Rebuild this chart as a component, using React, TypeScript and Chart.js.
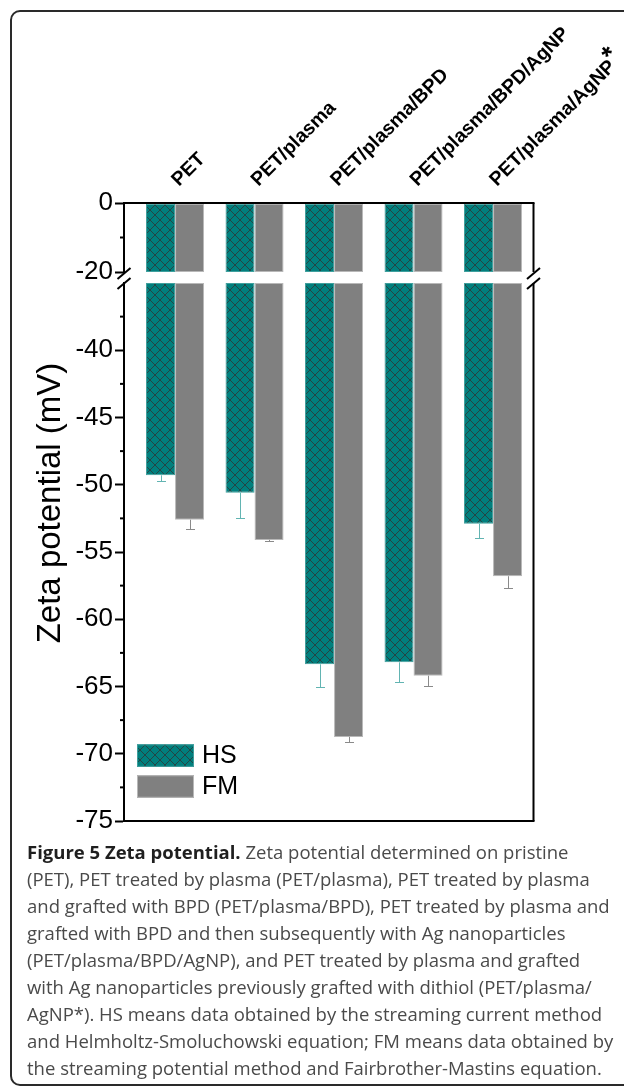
import React, { useEffect, useRef } from 'react';
import { Chart, registerables } from 'chart.js';

Chart.register(...registerables);

// Sample groups along the x axis
const categories = ['PET', 'PET/plasma', 'PET/plasma/BPD', 'PET/plasma/BPD/AgNP', 'PET/plasma/AgNP'];
const categoryMarks = ['', '', '', '', '*'];

// Zeta potential (mV): HS = streaming current, FM = streaming potential
const hsValues = [-49.3, -50.6, -63.35, -63.2, -52.9];
const hsErrors = [0.45, 1.85, 1.7, 1.45, 1.05];
const fmValues = [-52.6, -54.1, -68.75, -64.2, -56.8];
const fmErrors = [0.7, 0.1, 0.35, 0.75, 0.85];

// Broken y axis: upper segment and lower segment
const upperRange = [-20, 0];
const lowerRange = [-75, -35];
const upperTicks = [0, -20];
const upperMinorTicks = [-10];
const lowerTicks = [-40, -45, -50, -55, -60, -65, -70, -75];
const lowerMinorTicks = [-37.5, -42.5, -47.5, -52.5, -57.5, -62.5, -67.5, -72.5];

const seriesNames = ['HS', 'FM'];
const axisTitle = 'Zeta potential (mV)';

const FONT = "'Liberation Sans', Arial, Helvetica, sans-serif";
const TEAL = '#017f7d';
const GREY = '#808080';

function makeHatch(ctx: CanvasRenderingContext2D) {
  const tile = document.createElement('canvas');
  tile.width = 10;
  tile.height = 10;
  const g = tile.getContext('2d')!;
  g.fillStyle = TEAL;
  g.fillRect(0, 0, 10, 10);
  g.strokeStyle = 'rgba(50,50,50,0.75)';
  g.lineWidth = 1;
  g.beginPath();
  g.moveTo(-1, -1);
  g.lineTo(11, 11);
  g.moveTo(11, -1);
  g.lineTo(-1, 11);
  g.stroke();
  return ctx.createPattern(tile, 'repeat') as CanvasPattern;
}

const decor = {
  id: 'decor',
  afterDatasetsDraw(chart: any) {
    const { ctx, chartArea: a, scales } = chart;
    const up = scales.y2;
    const lo = scales.y;
    const xs = scales.x;
    const line = (x1: number, y1: number, x2: number, y2: number) => {
      ctx.beginPath();
      ctx.moveTo(x1, y1);
      ctx.lineTo(x2, y2);
      ctx.stroke();
    };
    ctx.save();

    // error bars (downward only)
    const errSets = [
      { values: hsValues, errors: hsErrors, meta: chart.getDatasetMeta(2), color: '#62b4b2' },
      { values: fmValues, errors: fmErrors, meta: chart.getDatasetMeta(3), color: '#8a8a8a' },
    ];
    ctx.lineWidth = 1;
    for (const s of errSets) {
      ctx.strokeStyle = s.color;
      s.meta.data.forEach((bar: any, i: number) => {
        const x = Math.round(bar.x) + 0.5;
        const y0 = lo.getPixelForValue(s.values[i]);
        const y1 = Math.round(lo.getPixelForValue(s.values[i] - s.errors[i])) + 0.5;
        line(x, y0, x, y1);
        line(x - 4.5, y1, x + 4.5, y1);
      });
    }

    // frame
    ctx.strokeStyle = '#000';
    ctx.lineWidth = 2;
    line(a.left - 1, up.top, a.right + 1, up.top);
    line(a.left - 1, lo.bottom, a.right + 1, lo.bottom);
    line(a.right, up.top, a.right, up.bottom);
    line(a.right, lo.top, a.right, lo.bottom);

    // axis break marks
    for (const x of [a.left, a.right]) {
      for (const y of [up.bottom + 1.5, lo.top + 0.5]) {
        line(x - 6.5, y + 5.5, x + 6.5, y - 5.5);
      }
    }

    // minor ticks
    for (const v of upperMinorTicks) {
      const y = up.getPixelForValue(v);
      line(a.left - 4, y, a.left, y);
    }
    for (const v of lowerMinorTicks) {
      const y = lo.getPixelForValue(v);
      line(a.left - 4, y, a.left, y);
    }

    // axis title
    ctx.fillStyle = '#000';
    ctx.save();
    ctx.translate(60, 503);
    ctx.rotate(-Math.PI / 2);
    ctx.font = `33px ${FONT}`;
    ctx.textAlign = 'center';
    ctx.textBaseline = 'alphabetic';
    ctx.fillText(axisTitle, 0, 0);
    ctx.restore();

    // rotated category labels above the plot
    categories.forEach((label, i) => {
      const cx = xs.getPixelForValue(i);
      ctx.save();
      ctx.translate(cx + 4, up.top - 16);
      ctx.rotate(-Math.PI / 4);
      ctx.font = `bold 19.5px ${FONT}`;
      ctx.textAlign = 'left';
      ctx.textBaseline = 'alphabetic';
      ctx.fillText(label, 0, 0);
      if (categoryMarks[i]) {
        const w = ctx.measureText(label).width;
        ctx.font = `bold 27px ${FONT}`;
        ctx.fillText(categoryMarks[i], w - 1, -5);
      }
      ctx.restore();
    });

    // legend
    const fills = [chart.data.datasets[2].backgroundColor, chart.data.datasets[3].backgroundColor];
    const edges = ['#3f9f9d', '#b8b8b8'];
    const lx = a.left + 13;
    const boxes = [lo.getPixelForValue(-69.3), lo.getPixelForValue(-71.6)];
    ctx.font = `25px ${FONT}`;
    ctx.textAlign = 'left';
    ctx.textBaseline = 'middle';
    seriesNames.forEach((name, k) => {
      const top = boxes[k];
      ctx.fillStyle = fills[k];
      ctx.fillRect(lx, top, 57, 22.5);
      ctx.strokeStyle = edges[k];
      ctx.lineWidth = 1;
      ctx.strokeRect(lx + 0.5, top + 0.5, 56, 21.5);
      ctx.fillStyle = '#000';
      ctx.fillText(name, lx + 65, top + 12);
    });

    ctx.restore();
  },
};

export default function App() {
  const ref = useRef<HTMLCanvasElement>(null);

  useEffect(() => {
    const canvas = ref.current!;
    const ctx = canvas.getContext('2d')!;
    const hatch = makeHatch(ctx);

    const upperBar = (vals: number[]) =>
      vals.map((v, i) => ({ x: i, y: [upperRange[1], Math.max(v, upperRange[0])] }));
    const lowerBar = (vals: number[]) =>
      vals.map((v, i) => ({ x: i, y: [lowerRange[1], v] }));

    const common = {
      borderWidth: 1,
      borderSkipped: false,
      categoryPercentage: 0.73,
      barPercentage: 1,
    };

    const tickFont = { family: FONT, size: 26 };
    const yBase = {
      type: 'linear',
      position: 'left',
      stack: 'v',
      stacked: false,
      afterFit: (s: any) => {
        s.width = 124;
      },
      grid: {
        display: true,
        drawOnChartArea: false,
        drawTicks: true,
        tickLength: 9,
        tickWidth: 2,
        tickColor: '#000',
      },
      border: { display: true, color: '#000', width: 2 },
      ticks: { font: tickFont, color: '#000', padding: 2 },
    };

    const chart = new Chart(canvas, {
      type: 'bar',
      data: {
        datasets: [
          { label: seriesNames[0], data: upperBar(hsValues), yAxisID: 'y2', stack: 'hs', backgroundColor: hatch, borderColor: '#3f9f9d', ...common },
          { label: seriesNames[1], data: upperBar(fmValues), yAxisID: 'y2', stack: 'fm', backgroundColor: GREY, borderColor: '#b8b8b8', ...common },
          { label: seriesNames[0], data: lowerBar(hsValues), yAxisID: 'y', stack: 'hs', backgroundColor: hatch, borderColor: '#3f9f9d', ...common },
          { label: seriesNames[1], data: lowerBar(fmValues), yAxisID: 'y', stack: 'fm', backgroundColor: GREY, borderColor: '#b8b8b8', ...common },
        ] as any,
      },
      options: {
        animation: false,
        responsive: false,
        devicePixelRatio: 1,
        layout: { padding: { top: 203, bottom: 19, left: 0, right: 90.5 } },
        plugins: { legend: { display: false }, tooltip: { enabled: false } },
        scales: {
          x: {
            type: 'linear',
            display: false,
            offset: false,
            min: -0.642,
            max: 4.509,
            afterBuildTicks: (s: any) => {
              s.ticks = categories.map((_, i) => ({ value: i }));
            },
          },
          y: {
            ...yBase,
            min: lowerRange[0],
            max: lowerRange[1],
            stackWeight: 538,
            weight: 1,
            afterBuildTicks: (s: any) => {
              s.ticks = lowerTicks.map((v) => ({ value: v }));
            },
          },
          yGap: {
            type: 'linear',
            display: false,
            stack: 'v',
            stackWeight: 11,
            weight: 2,
            min: 0,
            max: 1,
          },
          y2: {
            ...yBase,
            min: upperRange[0],
            max: upperRange[1],
            stackWeight: 69,
            weight: 3,
            afterBuildTicks: (s: any) => {
              s.ticks = upperTicks.map((v) => ({ value: v }));
            },
          },
        } as any,
      },
      plugins: [decor],
    });

    return () => chart.destroy();
  }, []);

  const captionLines: React.ReactNode[] = [
    <>
      <b style={{ color: '#1f1f1f' }}>Figure 5 Zeta potential.</b> Zeta potential determined on pristine
    </>,
    '(PET), PET treated by plasma (PET/plasma), PET treated by plasma',
    'and grafted with BPD (PET/plasma/BPD), PET treated by plasma and',
    'grafted with BPD and then subsequently with Ag nanoparticles',
    '(PET/plasma/BPD/AgNP), and PET treated by plasma and grafted',
    'with Ag nanoparticles previously grafted with dithiol (PET/plasma/',
    'AgNP*). HS means data obtained by the streaming current method',
    'and Helmholtz-Smoluchowski equation; FM means data obtained by',
    'the streaming potential method and Fairbrother-Mastins equation.',
  ];

  return (
    <div
      style={{
        position: 'absolute',
        left: 0,
        top: 0,
        width: 624,
        height: 1086,
        overflow: 'hidden',
        background: '#fff',
      }}
    >
      <div
        style={{
          position: 'absolute',
          left: 10,
          top: 10,
          width: 760,
          height: 1076,
          border: '2px solid #2a2a2a',
          borderRadius: 10,
          boxSizing: 'border-box',
        }}
      />
      <canvas
        ref={ref}
        width={624}
        height={840}
        style={{ position: 'absolute', left: 0, top: 0, width: 624, height: 840 }}
      />
      <div
        style={{
          position: 'absolute',
          left: 27,
          top: 838,
          fontFamily: "'Open Sans', 'Noto Sans', sans-serif",
          fontSize: 18.5,
          lineHeight: '27px',
          color: '#4a4a4a',
        }}
      >
        {captionLines.map((l, i) => (
          <div key={i} style={{ whiteSpace: 'nowrap' }}>
            {l}
          </div>
        ))}
      </div>
    </div>
  );
}
